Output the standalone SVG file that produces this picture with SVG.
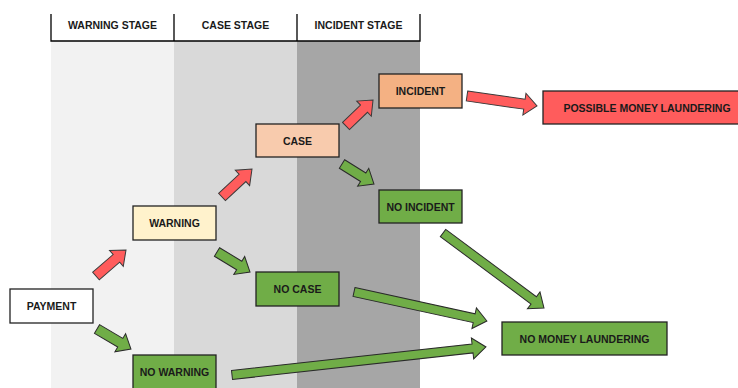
<svg xmlns="http://www.w3.org/2000/svg" width="738" height="388" viewBox="0 0 738 388">
<style>
.band{stroke:none}
.hdr{stroke:#000;stroke-width:1.3;fill:none}
.node{stroke:#222;stroke-width:1.3}
.t{font-family:"Liberation Sans",Arial,sans-serif;font-weight:bold;font-size:10.5px;fill:#1a1a1a;text-anchor:middle;dominant-baseline:central}
.red{fill:#ff5c5c;stroke:#3a3a3a;stroke-width:1}
.green{fill:#70ad47;stroke:#2a2a2a;stroke-width:1}
</style>
<rect width="738" height="388" fill="#fff"/>
<g id="bands">
<rect class="band" x="51" y="41" width="123" height="347" fill="#f2f2f2"/>
<rect class="band" x="174" y="41" width="123" height="347" fill="#d9d9d9"/>
<rect class="band" x="297" y="41" width="123" height="347" fill="#a6a6a6"/>
</g>
<g id="header">
<path class="hdr" d="M51,14V41H420V14M174,14V41M297,14V41"/>
<text class="t" x="112.5" y="25">WARNING STAGE</text>
<text class="t" x="235.5" y="25">CASE STAGE</text>
<text class="t" x="358.5" y="25">INCIDENT STAGE</text>
</g>
<g id="connectors">
<path class="red" transform="translate(96,276) rotate(-40.9)" d="M0,-5H27V-10.5L39.7,0L27,10.5V5H0Z"/>
<path class="red" transform="translate(222,197) rotate(-43)" d="M0,-5H28V-10.5L41,0L28,10.5V5H0Z"/>
<path class="red" transform="translate(346,126) rotate(-43.9)" d="M0,-5H25V-10.5L37.5,0L25,10.5V5H0Z"/>
<path class="red" transform="translate(467,96) rotate(8.1)" d="M0,-5H58V-11L70.7,0L58,11V5H0Z"/>
<path class="green" transform="translate(217,252) rotate(31.2)" d="M0,-5H26V-10.5L38.6,0L26,10.5V5H0Z"/>
<path class="green" transform="translate(342,164) rotate(32)" d="M0,-5H25V-10.5L37.7,0L25,10.5V5H0Z"/>
<path class="green" transform="translate(97,329) rotate(30.5)" d="M0,-5H27V-10.5L39.4,0L27,10.5V5H0Z"/>
<path class="green" transform="translate(443,233) rotate(36.6)" d="M0,-4.5H113V-10.5L125.8,0L113,10.5V4.5H0Z"/>
<path class="green" transform="translate(354,292) rotate(12.3)" d="M0,-4.5H123V-10.5L136,0L123,10.5V4.5H0Z"/>
<path class="green" transform="translate(232,375) rotate(-6.3)" d="M0,-4.5H242V-10.5L255.5,0L242,10.5V4.5H0Z"/>
</g>
<g id="payment">
<rect class="node" x="10" y="289" width="83" height="34" fill="#ffffff"/>
<text class="t" x="51.5" y="306">PAYMENT</text>
</g>
<g id="warning">
<rect class="node" x="133" y="206" width="83" height="34" fill="#fff2cc"/>
<text class="t" x="174.5" y="223">WARNING</text>
</g>
<g id="case">
<rect class="node" x="256" y="124" width="83" height="33" fill="#f8cbad"/>
<text class="t" x="297.5" y="140.5">CASE</text>
</g>
<g id="incident">
<rect class="node" x="379" y="74" width="83" height="34" fill="#f4b183"/>
<text class="t" x="420.5" y="91">INCIDENT</text>
</g>
<g id="possible-money-laundering">
<rect class="node" x="543" y="91" width="196" height="33" fill="#ff5c5c"/>
<text class="t" x="647" y="107.5">POSSIBLE MONEY LAUNDERING</text>
</g>
<g id="no-incident">
<rect class="node" x="379" y="190" width="83" height="33" fill="#70ad47"/>
<text class="t" x="420.5" y="206.5">NO INCIDENT</text>
</g>
<g id="no-case">
<rect class="node" x="256" y="272" width="83" height="34" fill="#70ad47"/>
<text class="t" x="297.5" y="289">NO CASE</text>
</g>
<g id="no-warning">
<rect class="node" x="133" y="355" width="83" height="34" fill="#70ad47"/>
<text class="t" x="174.5" y="372">NO WARNING</text>
</g>
<g id="no-money-laundering">
<rect class="node" x="502" y="322" width="165" height="33" fill="#70ad47"/>
<text class="t" x="584.5" y="338.5">NO MONEY LAUNDERING</text>
</g>
</svg>
